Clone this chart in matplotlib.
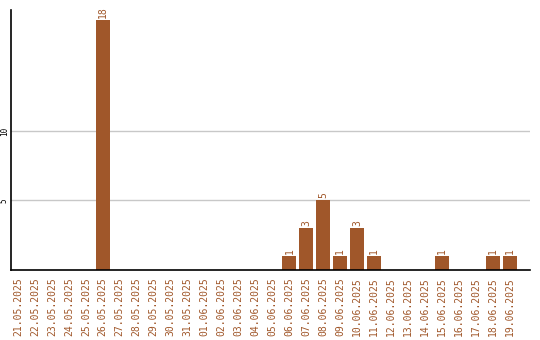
import matplotlib
matplotlib.use("Agg")
import matplotlib.pyplot as plt

dates = ["21.05.2025", "22.05.2025", "23.05.2025", "24.05.2025", "25.05.2025",
         "26.05.2025", "27.05.2025", "28.05.2025", "29.05.2025", "30.05.2025",
         "31.05.2025", "01.06.2025", "02.06.2025", "03.06.2025", "04.06.2025",
         "05.06.2025", "06.06.2025", "07.06.2025", "08.06.2025", "09.06.2025",
         "10.06.2025", "11.06.2025", "12.06.2025", "13.06.2025", "14.06.2025",
         "15.06.2025", "16.06.2025", "17.06.2025", "18.06.2025", "19.06.2025"]
values = [0, 0, 0, 0, 0, 18, 0, 0, 0, 0,
          0, 0, 0, 0, 0, 0, 1, 3, 5, 1,
          3, 1, 0, 0, 0, 1, 0, 0, 1, 1]
yticks = [5, 10]

color = "#a0572a"
font = "DejaVu Sans Mono"

fig = plt.figure(figsize=(5.4, 3.4), dpi=100)
ax = fig.add_axes([11/540, 70/340, 519/540, 260/340])
x = list(range(len(dates)))
ax.bar(x, values, width=0.82, color=color, zorder=3)
for xi, v in zip(x, values):
    if v > 0:
        ax.text(xi, v + 0.15, str(v), rotation=90, ha="center", va="bottom",
                color=color, fontsize=7, family=font)
ax.set_xlim(-0.41, 30.18)
ax.set_ylim(0, 18.7)
ax.set_yticks(yticks)
ax.set_yticklabels([str(t) for t in yticks], rotation=90, va="center",
                   fontsize=5.5, family=font)
ax.set_xticks(x)
ax.set_xticklabels(dates, rotation=90, fontsize=7, family=font, color=color)
ax.tick_params(length=0, pad=5)
ax.tick_params(axis="y", pad=1.5)
ax.grid(axis="y", color="#c8c8c8", linewidth=1, zorder=0)
for s in ["top", "right"]:
    ax.spines[s].set_visible(False)
for s in ["left", "bottom"]:
    ax.spines[s].set_linewidth(1.2)
    ax.spines[s].set_color("black")
    ax.spines[s].set_zorder(4)
fig.savefig("out.png", dpi=100)
